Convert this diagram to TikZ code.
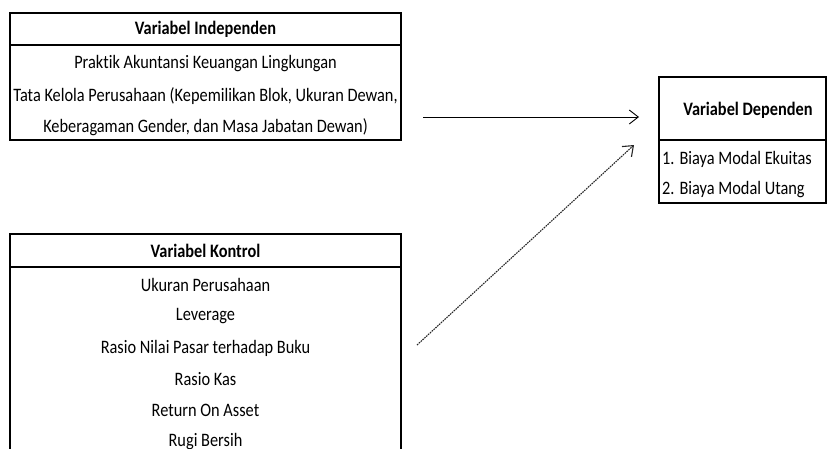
\documentclass[tikz,border=0pt]{standalone}
\usepackage{fontspec}
\setmainfont{Carlito}[FakeStretch=0.86,Ligatures=NoCommon]
\usetikzlibrary{arrows.meta}
\tikzset{
    boxline/.style={line width=1.3pt},
    headtxt/.style={font=\fontsize{19}{22}\selectfont\bfseries},
    linkarrow/.style={line width=0.9pt,-{Straight Barb[length=9pt,width=14pt]}}
}
\begin{document}
\begin{tikzpicture}[x=1pt,y=-1pt,font=\fontsize{19}{22}\selectfont]
    \clip (0,0) rectangle (827,448);
    % Independent box
    \draw[boxline] (10,13) rectangle (401,140);
    \draw[boxline] (10,45) to (401,45);
    \node[headtxt] (indhead) at (205.5,29) {Variabel Independen};
    \node (ind1) at (205.5,64) {Praktik Akuntansi Keuangan Lingkungan};
    \node (ind2) at (205.5,96) {Tata Kelola Perusahaan (Kepemilikan Blok, Ukuran Dewan,};
    \node (ind3) at (205.5,127) {Keberagaman Gender, dan Masa Jabatan Dewan)};
    % Control box
    \draw[boxline] (10,460) to (10,234) to (401,234) to (401,460);
    \draw[boxline] (10,267) to (401,267);
    \node[headtxt] (conhead) at (205.5,251) {Variabel Kontrol};
    \node (con1) at (205.5,285) {Ukuran Perusahaan};
    \node (con2) at (205.5,316) {Leverage};
    \node (con3) at (205.5,348) {Rasio Nilai Pasar terhadap Buku};
    \node (con4) at (205.5,379) {Rasio Kas};
    \node (con5) at (205.5,410) {Return On Asset};
    \node (con6) at (205.5,442) {Rugi Bersih};
    % Dependent box
    \draw[boxline] (659,77) rectangle (826,203);
    \draw[boxline] (659,140) to (826,140);
    \node[headtxt] (dephead) at (748,110) {Variabel Dependen};
    \node[anchor=west,inner sep=1pt] (dep1) at (661,159) {1. Biaya Modal Ekuitas};
    \node[anchor=west,inner sep=1pt] (dep2) at (661,190) {2. Biaya Modal Utang};
    % Arrows
    \coordinate (indout) at (423,117);
    \coordinate (depin) at (639,117);
    \coordinate (conout) at (417,345);
    \coordinate (depin2) at (634,145);
    \draw[linkarrow] (indout) to (depin);
    \draw[linkarrow,black!85,line width=1.1pt,dash pattern=on 1.6pt off 0.9pt] (conout) to (depin2);
\end{tikzpicture}
\end{document}
